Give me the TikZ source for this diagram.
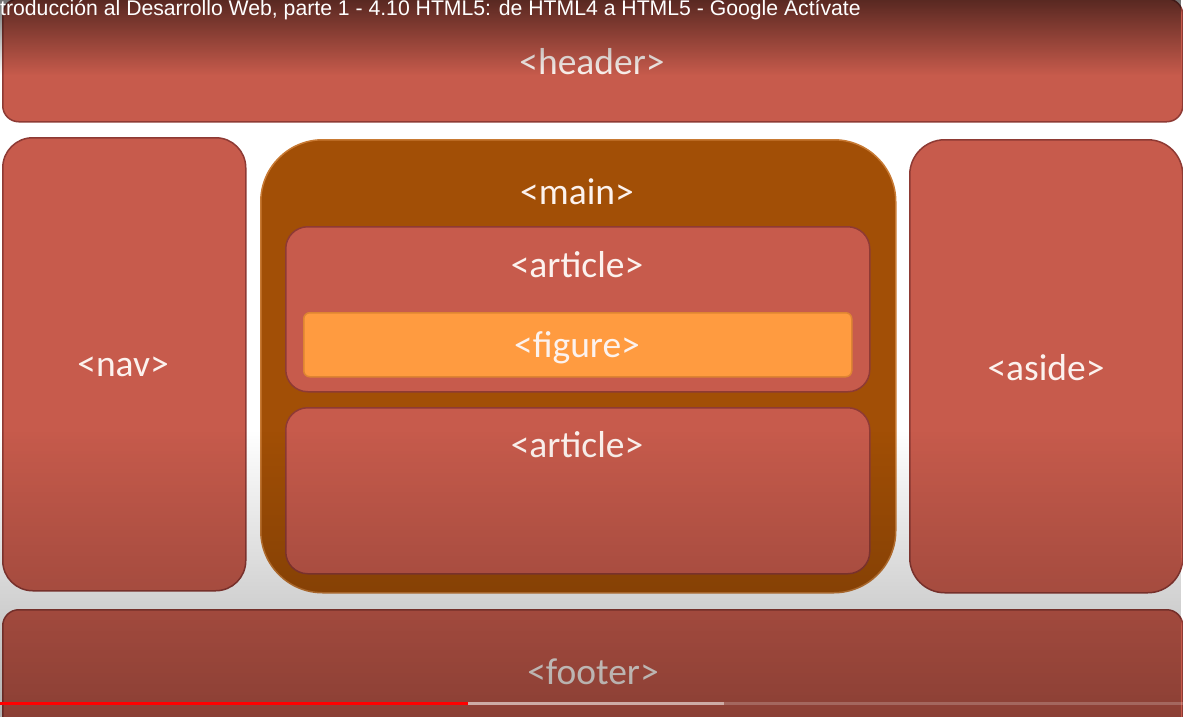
\documentclass[tikz,border=0pt]{standalone}
\usepackage{fontspec}
\newfontfamily\tagfont{Carlito}
\newfontfamily\titlefont{Liberation Sans}
\usetikzlibrary{fadings}
\definecolor{boxred}{RGB}{199,91,76}
\definecolor{boxedge}{RGB}{142,58,52}
\definecolor{mainbrown}{RGB}{162,79,6}
\definecolor{mainedge}{RGB}{200,122,52}
\definecolor{figorange}{RGB}{255,155,64}
\definecolor{figedge}{RGB}{222,132,50}
\definecolor{tagtext}{RGB}{252,242,238}

\tikzfading[name=fadetop, top color=transparent!45, bottom color=transparent!100]
\tikzfading[name=fadebottom, top color=transparent!100, bottom color=transparent!70]

\begin{document}
\begin{tikzpicture}[x=1pt, y=-1pt,
    box/.style={draw=boxedge, fill=boxred, line width=1.5pt, inner sep=0pt, anchor=north west},
    mainbox/.style={box, draw=mainedge, fill=mainbrown},
    figbox/.style={box, draw=figedge, fill=figorange},
    tag/.style={font=\tagfont\fontsize{37.5}{42}\selectfont, text=tagtext, inner sep=0pt}
]
\useasboundingbox (0,0) rectangle (1183,717);
\clip (0,0) rectangle (1183,717);
\fill[white] (0,0) rectangle (1183,717);

% ============ page regions ============
\node[box, rounded corners=16, minimum width=1180, minimum height=123] (header) at (2,-2) {};
\node[box, rounded corners=30, minimum width=243, minimum height=453] (nav) at (2,137) {};
\node[mainbox, rounded corners=62, minimum width=635, minimum height=453] (main) at (260,139) {};
\node[box, rounded corners=35, minimum width=273, minimum height=453] (aside) at (909,139) {};
\node[box, rounded corners=16, minimum width=1180, minimum height=140] (footer) at (2,609) {};

% ============ inside main ============
\node[box, rounded corners=22, minimum width=584, minimum height=165] (art1) at (285,226) {};
\node[figbox, rounded corners=6, minimum width=548, minimum height=64] (fig) at (303,312) {};
\node[box, rounded corners=22, minimum width=584, minimum height=166] (art2) at (285,407) {};

% labels
\node[tag] (headerlbl) at (592,62) {<header>};
\node[tag] (navlbl) at (123,367) {<nav>};
\node[tag] (mainlbl) at (577,192) {<main>};
\node[tag] (art1lbl) at (577,265) {<article>};
\node[tag] (figlbl) at (577,348) {<figure>};
\node[tag] (art2lbl) at (577,445) {<article>};
\node[tag] (asidelbl) at (1046,368) {<aside>};
\node[tag] (footerlbl) at (593,672) {<footer>};

% ============ player overlay ============
\fill[black, path fading=fadetop] (0,0) rectangle (1183,75);
\fill[black, path fading=fadebottom] (0,430) rectangle (1183,717);

\node[anchor=west, text=white, inner sep=0pt,
  font=\titlefont\fontsize{21.2}{25}\selectfont] (title) at (0,10)
  {troducción al Desarrollo Web, parte 1 - 4.10 HTML5: de HTML4 a HTML5 - Google Actívate};

% progress bar
\fill[white, opacity=0.2] (0,702) rectangle (1183,705);
\fill[white, opacity=0.45] (0,702) rectangle (724,705);
\fill[red] (0,702) rectangle (468,705);
\end{tikzpicture}
\end{document}
